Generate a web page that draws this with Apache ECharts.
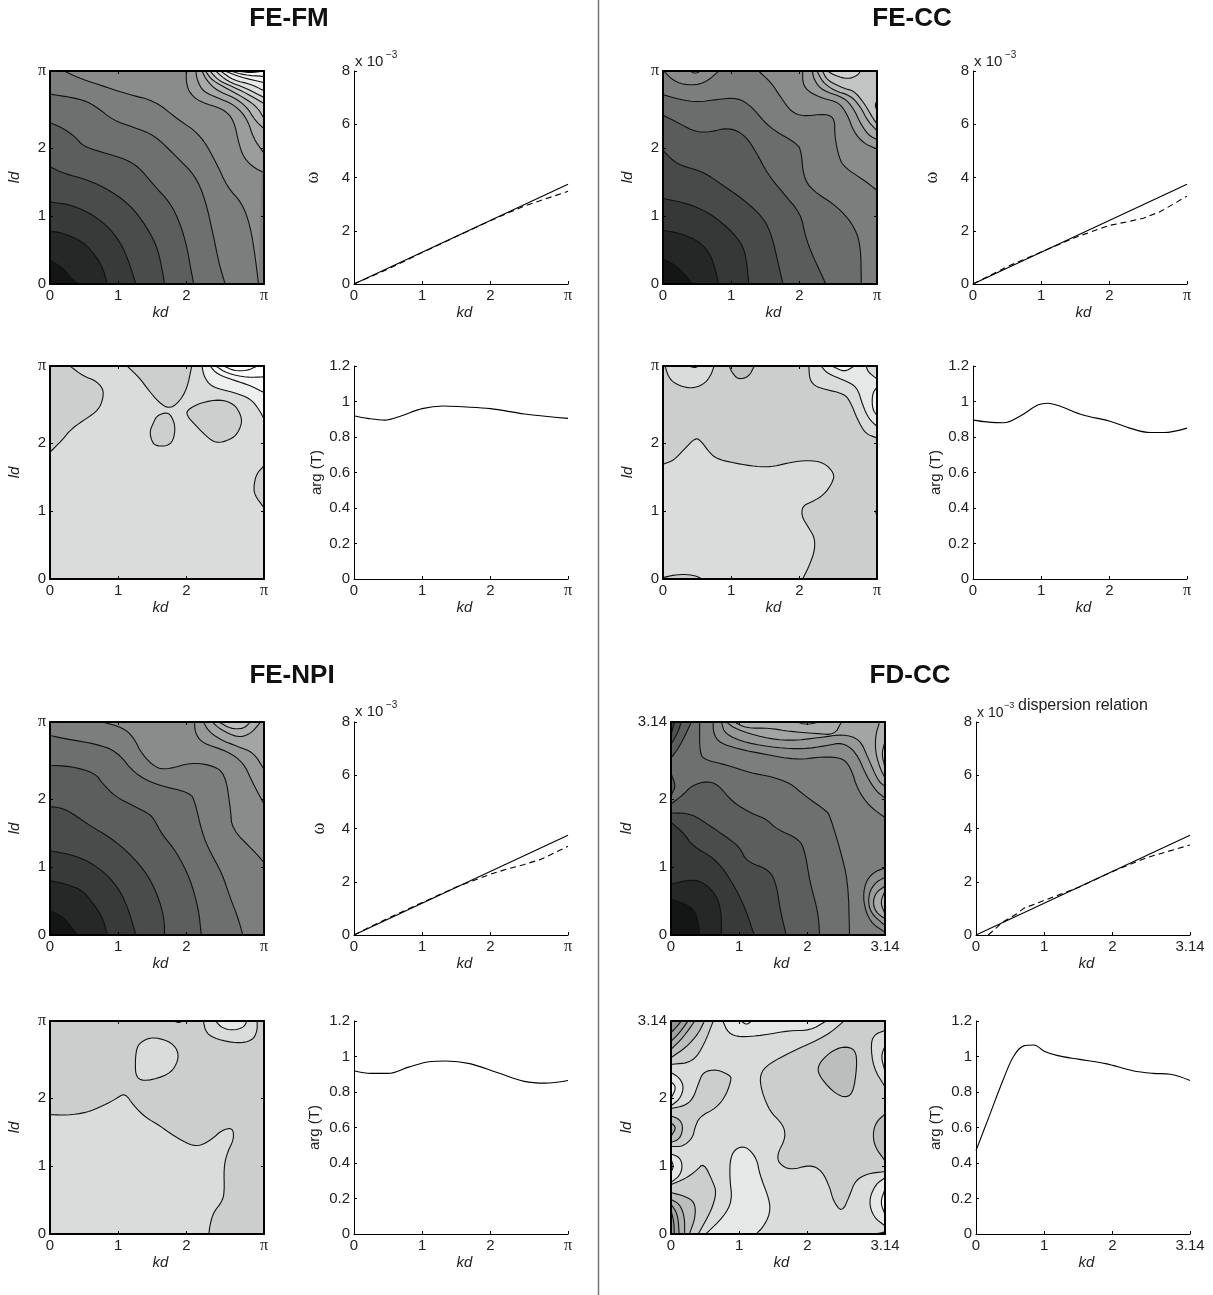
<!DOCTYPE html>
<html><head><meta charset="utf-8">
<style>html,body{margin:0;padding:0;background:#fff}#c{width:1213px;height:1295px}</style>
<script src="https://cdn.jsdelivr.net/npm/echarts@6/dist/echarts.min.js"></script>
</head><body><div id="c"></div>
<script>
// Contour data: [grey level of the enclosed region, closing corners, path of [kd, ld]]
const fmOmegaContours = [
 [0x8a,'TR',[[0.21,3.14],[0.39,3.05],[0.74,2.93],[1.13,2.8],[1.54,2.7],[1.86,2.44],[2.21,2.2],[2.45,1.77],[2.6,1.43],[2.82,1.19],[2.94,0.85],[3.01,0.41],[3.06,0]]],
 [0x6e,'O',[[0,2.8],[0.44,2.73],[0.66,2.63],[0.93,2.41],[1.23,2.31],[1.54,2.19],[1.86,1.87],[2.13,1.6],[2.28,1.24],[2.4,0.7],[2.48,0.3],[2.57,0]]],
 [0x5c,'O',[[0,2.38],[0.2,2.29],[0.37,2.17],[0.49,2.03],[0.74,1.95],[1.08,1.85],[1.3,1.73],[1.52,1.46],[1.77,1.19],[1.91,0.89],[2.01,0.55],[2.06,0.25],[2.11,0]]],
 [0x4a,'O',[[0,1.73],[0.2,1.63],[0.54,1.54],[0.88,1.38],[1.18,1.16],[1.42,0.84],[1.57,0.55],[1.64,0.25],[1.68,0]]],
 [0x38,'O',[[0,1.21],[0.29,1.17],[0.56,1.06],[0.83,0.87],[1.03,0.62],[1.15,0.35],[1.26,0]]],
 [0x26,'O',[[0,0.78],[0.2,0.75],[0.49,0.62],[0.66,0.43],[0.78,0.23],[0.84,0]]],
 [0x14,'O',[[0,0.35],[0.2,0.23],[0.29,0.1],[0.42,0]]],
 [0x9b,'TR',[[2,3.14],[2,2.95],[2.06,2.8],[2.21,2.68],[2.55,2.58],[2.7,2.41],[2.77,2.07],[2.84,1.87],[2.97,1.73],[3.14,1.64]]],
 [0xa8,'TR',[[2.14,3.14],[2.16,3],[2.25,2.83],[2.5,2.73],[2.72,2.63],[2.89,2.44],[2.99,2.14],[3.11,1.97],[3.14,1.93]]],
 [0xb5,'TR',[[2.23,3.14],[2.3,3],[2.45,2.85],[2.7,2.75],[2.89,2.61],[3.01,2.41],[3.14,2.29]]],
 [0xc2,'TR',[[2.28,3.14],[2.38,3],[2.6,2.88],[2.84,2.75],[3.04,2.61],[3.14,2.44]]],
 [0xcf,'TR',[[2.35,3.14],[2.47,3],[2.7,2.9],[2.94,2.78],[3.14,2.66]]],
 [0xdc,'TR',[[2.43,3.14],[2.6,2.99],[2.89,2.88],[3.14,2.75]]],
 [0xe8,'TR',[[2.5,3.14],[2.7,3],[2.94,2.95],[3.14,2.85]]],
 [0xf2,'TR',[[2.57,3.14],[2.79,3.05],[3.14,2.97]]],
 [0xfa,'TR',[[2.65,3.14],[2.85,3.08],[3.14,3.06]]],
 [0xff,'TR',[[2.75,3.14],[2.94,3.11],[3.14,3.14]]]
];
const fmArgContours = [
 [0xcd,'TL',[[0.29,3.14],[0.49,2.99],[0.66,2.93],[0.78,2.81],[0.78,2.66],[0.71,2.49],[0.54,2.37],[0.32,2.22],[0.17,2.04],[0,1.87]]],
 [0xcd,'-',[[1.13,3.14],[1.3,2.98],[1.45,2.78],[1.59,2.61],[1.74,2.51],[1.88,2.59],[2.01,2.8],[2.08,3.14]]],
 [0xcd,'loop',[[1.57,2.41],[1.72,2.46],[1.79,2.39],[1.84,2.24],[1.81,2.04],[1.72,1.96],[1.57,1.96],[1.5,2.01],[1.46,2.17],[1.52,2.31]]],
 [0xcd,'loop',[[2.01,2.49],[2.21,2.6],[2.5,2.65],[2.7,2.58],[2.79,2.44],[2.82,2.31],[2.75,2.14],[2.65,2.06],[2.5,2.01],[2.37,2.03],[2.11,2.29],[2.01,2.41]]],
 [0xcd,'-',[[3.14,1.67],[3.03,1.55],[2.99,1.38],[3,1.24],[3.14,1.05]]],
 [0xee,'TR',[[2.23,3.14],[2.26,2.98],[2.37,2.83],[2.7,2.75],[2.94,2.66],[3.06,2.51],[3.14,2.36]]],
 [0xf6,'TR',[[2.35,3.14],[2.45,3.02],[2.7,2.93],[2.94,2.85],[3.14,2.75]]],
 [0xff,'TR',[[2.43,3.14],[2.6,3.03],[2.89,2.97],[3.14,2.98]]],
 [0xff,'-',[[2.55,3.14],[2.7,3.07],[2.89,3.07],[3.04,3.14]]]
];
const ccOmegaContours = [
 [0x6b,'O',[[0,2.79],[0.25,2.72],[0.5,2.68],[0.79,2.72],[1.09,2.75],[1.31,2.61],[1.55,2.31],[1.97,2.07],[2.03,1.95],[2.06,1.58],[2.19,1.38],[2.56,1.14],[2.78,0.89],[2.9,0.6],[2.91,0]]],
 [0x5a,'O',[[0,2.49],[0.25,2.36],[0.48,2.24],[0.7,2.24],[0.97,2.31],[1.21,2.19],[1.38,1.92],[1.53,1.63],[1.77,1.33],[2.02,1.04],[2.09,0.7],[2.19,0.43],[2.39,0]]],
 [0x48,'O',[[0,1.97],[0.11,1.85],[0.25,1.75],[0.6,1.65],[0.87,1.46],[1.19,1.24],[1.48,0.97],[1.6,0.7],[1.68,0.35],[1.76,0]]],
 [0x36,'O',[[0,1.26],[0.35,1.19],[0.7,1.04],[1.04,0.75],[1.21,0.5],[1.26,0]]],
 [0x25,'O',[[0,0.79],[0.25,0.75],[0.55,0.62],[0.72,0.4],[0.82,0]]],
 [0x14,'O',[[0,0.37],[0.18,0.28],[0.33,0.13],[0.43,0]]],
 [0x8a,'-',[[0.01,3.14],[0.16,2.99],[0.35,2.93],[0.6,2.95],[0.82,3.14]]],
 [0x99,'-',[[0.4,3.14],[0.47,3.1],[0.55,3.14]]],
 [0x8a,'TR',[[1.4,3.14],[1.58,2.98],[1.73,2.75],[1.87,2.55],[2.04,2.47],[2.39,2.51],[2.52,2.44],[2.52,2.17],[2.58,1.87],[2.66,1.72],[2.95,1.53],[3.14,1.38]]],
 [0x99,'TR',[[2.05,3.14],[2.05,2.95],[2.14,2.83],[2.36,2.73],[2.58,2.68],[2.71,2.49],[2.8,2.24],[2.95,2.07],[3.14,1.99]]],
 [0xa7,'TR',[[2.19,3.14],[2.22,3],[2.34,2.85],[2.66,2.75],[2.8,2.58],[2.9,2.36],[3.02,2.19],[3.14,2.13]]],
 [0xb4,'TR',[[2.26,3.14],[2.34,2.98],[2.51,2.85],[2.75,2.78],[2.9,2.61],[3,2.41],[3.14,2.26]]],
 [0xc2,'TR',[[2.34,3.14],[2.41,3],[2.66,2.88],[2.8,2.85],[2.95,2.67],[3.07,2.46],[3.14,2.36]]],
 [0xd0,'-',[[2.41,3.14],[2.53,3.07],[2.71,3.02],[2.85,3.07],[2.9,3.14]]],
 [0x60,'-',[[3.14,2.71],[3.11,2.63],[3.14,2.56]]]
];
const ccArgContours = [
 [0xda,'O',[[0,1.69],[0.16,1.75],[0.3,1.9],[0.48,2.09],[0.57,2.02],[0.7,1.84],[0.82,1.76],[1.14,1.69],[1.43,1.65],[1.63,1.66],[1.87,1.72],[2.12,1.75],[2.36,1.72],[2.52,1.55],[2.48,1.41],[2.36,1.24],[2.19,1.14],[2.05,1.08],[2.03,0.93],[2.14,0.75],[2.22,0.62],[2.23,0.45],[2.17,0.25],[2.05,0]]],
 [0xcc,'O',[[0,0.02],[0.16,0.06],[0.35,0.07],[0.5,0.04],[0.57,0]]],
 [0xda,'-',[[0.03,3.14],[0.08,2.98],[0.16,2.89],[0.33,2.82],[0.48,2.82],[0.62,2.89],[0.7,3],[0.75,3.14]]],
 [0xe6,'-',[[0.38,3.14],[0.47,3.11],[0.52,3.14]]],
 [0xbf,'-',[[0.97,3.14],[1.01,3.05],[1.1,2.94],[1.26,2.98],[1.34,3.14]]],
 [0xda,'TR',[[2.14,3.14],[2.15,2.95],[2.22,2.85],[2.36,2.8],[2.66,2.73],[2.75,2.61],[2.85,2.36],[2.97,2.14],[3.14,2.08]]],
 [0xe6,'TR',[[2.32,3.14],[2.41,3.03],[2.66,2.93],[2.85,2.83],[2.93,2.56],[3.02,2.36],[3.14,2.25]]],
 [0xf6,'-',[[2.48,3.14],[2.66,3.05],[2.81,3.14]]],
 [0xda,'TR',[[2.98,3.14],[3.01,3.05],[3.14,2.95]]],
 [0xf0,'-',[[3.14,2.83],[3.07,2.73],[3.07,2.51],[3.14,2.41]]],
 [0x40,'-',[[3.14,1.05],[3.12,0.99],[3.14,0.93]]]
];
const npiOmegaContours = [
 [0x8a,'TR',[[0.78,3.14],[1.08,3.05],[1.23,2.91],[1.35,2.66],[1.57,2.45],[1.76,2.45],[2.06,2.54],[2.35,2.51],[2.57,2.39],[2.65,1.85],[2.67,1.56],[2.99,1.24],[3.14,1.07]]],
 [0x6d,'O',[[0,2.94],[0.29,2.88],[0.66,2.82],[0.98,2.71],[1.25,2.37],[1.57,2.21],[2.06,2.1],[2.13,1.95],[2.23,1.51],[2.35,1.22],[2.52,0.92],[2.65,0.53],[2.75,0.28],[2.83,0]]],
 [0x5c,'O',[[0,2.5],[0.29,2.49],[0.66,2.39],[0.78,2.22],[0.96,2.04],[1.23,1.9],[1.47,1.78],[1.54,1.68],[1.64,1.49],[1.86,1.22],[2.06,0.82],[2.18,0.38],[2.22,0]]],
 [0x4a,'O',[[0,1.89],[0.15,1.88],[0.32,1.8],[0.59,1.61],[0.88,1.44],[1.18,1.19],[1.45,0.87],[1.62,0.48],[1.68,0.19],[1.68,0]]],
 [0x38,'O',[[0,1.24],[0.29,1.19],[0.56,1.09],[0.83,0.9],[1.03,0.65],[1.15,0.38],[1.26,0]]],
 [0x26,'O',[[0,0.8],[0.25,0.75],[0.49,0.65],[0.66,0.43],[0.78,0.24],[0.84,0]]],
 [0x14,'O',[[0,0.36],[0.2,0.26],[0.32,0.11],[0.4,0]]],
 [0x96,'TR',[[2.12,3.14],[2.13,2.98],[2.23,2.83],[2.6,2.71],[2.84,2.54],[2.97,2.25],[3.14,1.93]]],
 [0xa3,'TR',[[2.25,3.14],[2.33,3],[2.5,2.88],[2.75,2.78],[2.99,2.69],[3.14,2.44]]],
 [0xaf,'-',[[2.38,3.14],[2.5,3.03],[2.75,2.91],[2.94,2.96],[3.09,3.14]]],
 [0xbd,'-',[[2.48,3.14],[2.65,3.04],[2.84,3.04],[2.94,3.14]]]
];
const npiArgContours = [
 [0xda,'O',[[0,1.76],[0.25,1.75],[0.54,1.79],[0.78,1.89],[0.98,2],[1.1,2.08],[1.23,1.89],[1.4,1.72],[1.62,1.59],[1.81,1.45],[2.06,1.31],[2.21,1.3],[2.38,1.4],[2.52,1.53],[2.68,1.57],[2.7,1.4],[2.6,1.2],[2.55,0.98],[2.56,0.61],[2.52,0.47],[2.4,0.32],[2.35,0.15],[2.33,0]]],
 [0xda,'loop',[[1.32,2.82],[1.45,2.89],[1.59,2.89],[1.79,2.82],[1.89,2.67],[1.86,2.5],[1.74,2.35],[1.42,2.25],[1.26,2.3],[1.25,2.55],[1.27,2.73]]],
 [0xda,'-',[[2.25,3.14],[2.29,2.96],[2.45,2.87],[2.75,2.81],[2.97,2.85],[3.04,2.99],[3.04,3.14]]],
 [0xe8,'-',[[2.43,3.14],[2.52,3.04],[2.67,3],[2.84,3.04],[2.89,3.14]]],
 [0xda,'-',[[1.82,3.14],[1.89,3.11],[1.94,3.14]]]
];
const fdOmegaContours = [
 [0x6e,'O,TL',[[0.42,3.14],[0.42,2.68],[0.5,2.58],[0.81,2.51],[1.16,2.39],[1.45,2.34],[1.75,2.24],[1.94,2.07],[2.28,1.83],[2.33,1.76],[2.48,1.27],[2.6,0.78],[2.62,0]]],
 [0x5c,'O',[[0,1.93],[0.18,2.07],[0.3,2.2],[0.52,2.27],[0.69,2.22],[0.91,1.95],[1.21,1.78],[1.4,1.71],[1.55,1.56],[1.89,1.41],[1.97,1.21],[2.04,0.77],[2.16,0.33],[2.18,0]]],
 [0x4a,'O',[[0,1.8],[0.3,1.79],[0.57,1.61],[0.86,1.41],[1.01,1.29],[1.11,1.08],[1.45,0.96],[1.55,0.73],[1.6,0.38],[1.69,0]]],
 [0x38,'O',[[0,1.66],[0.18,1.51],[0.32,1.31],[0.62,1.14],[0.81,0.92],[1.06,0.48],[1.22,0]]],
 [0x26,'O',[[0,0.75],[0.3,0.82],[0.49,0.77],[0.67,0.58],[0.74,0.33],[0.74,0]]],
 [0x14,'O',[[0,0.53],[0.2,0.46],[0.35,0.36],[0.4,0.19],[0.42,0]]],
 [0x5c,'-',[[0,2.38],[0.07,2.2],[0.02,2.1],[0,2.04]]],
 [0x5c,'TL',[[0,2.61],[0.13,2.78],[0.3,3.14]]],
 [0x4e,'TL',[[0,2.81],[0.1,2.98],[0.15,3.14]]],
 [0x40,'TL',[[0,2.95],[0.05,3.14]]],
 [0x8a,'TR',[[0.62,3.14],[0.62,2.98],[0.71,2.83],[1,2.74],[1.35,2.67],[1.84,2.58],[2.23,2.63],[2.52,2.61],[2.64,2.46],[2.74,2.14],[2.91,1.9],[3.14,1.73]]],
 [0x96,'TR',[[0.74,3.14],[0.79,2.96],[1.11,2.83],[1.55,2.76],[1.94,2.74],[2.28,2.79],[2.52,2.84],[2.72,2.69],[2.87,2.34],[3.01,2.12],[3.14,2.02]]],
 [0xa3,'TR',[[0.81,3.14],[0.96,3.03],[1.35,2.91],[1.74,2.86],[2.18,2.91],[2.52,2.96],[2.77,2.89],[2.9,2.59],[3.04,2.27],[3.14,2.19]]],
 [0xab,'-',[[0.93,3.14],[1.1,3.05],[1.45,3.05],[1.74,3],[2.13,2.97],[2.4,2.95],[2.5,3.14]]],
 [0xb7,'-',[[1.84,3.14],[1.99,3.1],[2.18,3.14]]],
 [0xb0,'TR',[[3.06,3.14],[3,2.94],[3,2.69],[3.07,2.45],[3.14,2.32]]],
 [0xbe,'-',[[3.14,2.85],[3.09,2.67],[3.14,2.47]]],
 [0x8a,'-',[[3.14,0.99],[2.96,0.92],[2.84,0.75],[2.82,0.48],[2.92,0.19],[3.14,0.04]]],
 [0x99,'-',[[3.14,0.85],[2.99,0.77],[2.89,0.58],[2.92,0.33],[3.14,0.14]]],
 [0xa9,'-',[[3.14,0.72],[3.01,0.63],[2.96,0.48],[3.01,0.33],[3.14,0.24]]],
 [0xb6,'-',[[3.14,0.65],[3.07,0.48],[3.14,0.31]]]
];
const fdArgContours = [
 [0xcc,'TR',[[2.54,3.14],[2.28,2.92],[1.84,2.72],[1.43,2.51],[1.3,2.35],[1.33,2.1],[1.45,1.81],[1.6,1.66],[1.67,1.54],[1.67,1.39],[1.56,1.18],[1.58,1.04],[1.75,0.94],[2.04,1.02],[2.21,0.94],[2.33,0.69],[2.38,0.49],[2.51,0.31],[2.63,0.59],[2.7,0.78],[2.87,0.89],[3.14,0.92]]],
 [0xbc,'loop',[[2.16,2.5],[2.33,2.68],[2.53,2.77],[2.71,2.72],[2.73,2.47],[2.67,2.06],[2.53,2.01],[2.36,2.11],[2.16,2.35]]],
 [0xda,'-',[[3.14,3],[2.98,2.94],[2.93,2.79],[2.97,2.45],[3.14,2.17]]],
 [0xe6,'-',[[3.14,2.77],[3.08,2.62],[3.14,2.4]]],
 [0xbc,'-',[[3.14,1.77],[3,1.64],[2.96,1.45],[3,1.27],[3.14,1.08]]],
 [0xe6,'-',[[3.14,0.83],[3,0.73],[2.9,0.49],[2.97,0.25],[3.14,0.12]]],
 [0xf6,'-',[[3.14,0.66],[3.07,0.47],[3.14,0.29]]],
 [0xcc,'BR',[[2.99,0],[3.14,0.03]]],
 [0xe6,'-',[[0.76,3.14],[0.84,2.96],[1.01,2.9],[1.35,2.93],[1.74,3],[2.04,3],[2.28,3.14]]],
 [0xf6,'-',[[1.03,3.14],[1.11,3.08],[1.18,3.14]]],
 [0xe6,'-',[[0.51,0],[0.77,0.25],[0.9,0.49],[0.86,0.83],[0.87,1.13],[0.96,1.27],[1.11,1.29],[1.26,1.11],[1.3,0.88],[1.45,0.49],[1.45,0.29],[1.35,0.1],[1.25,0]]],
 [0xcc,'-',[[0,1.85],[0.2,1.89],[0.32,1.99],[0.4,2.21],[0.47,2.39],[0.67,2.43],[0.86,2.34],[0.89,2.29],[0.81,2.05],[0.67,1.86],[0.42,1.73],[0.35,1.57],[0.32,1.42],[0.18,1.29],[0,1.29]]],
 [0xbc,'-',[[0,1.74],[0.13,1.69],[0.18,1.57],[0.13,1.4],[0,1.35]]],
 [0xae,'-',[[0,1.64],[0.08,1.57],[0,1.44]]],
 [0xe6,'-',[[0,2.38],[0.13,2.3],[0.19,2.16],[0.13,1.99],[0,1.89]]],
 [0xf2,'-',[[0,2.25],[0.08,2.16],[0,2]]],
 [0xe6,'-',[[0,1.18],[0.13,1.13],[0.17,1],[0.13,0.86],[0,0.76]]],
 [0xf2,'-',[[0,1.1],[0.04,1],[0,0.91]]],
 [0xcc,'TL',[[0,2.5],[0.32,2.53],[0.49,2.8],[0.62,3.14]]],
 [0xbc,'TL',[[0,2.6],[0.22,2.75],[0.4,2.95],[0.49,3.14]]],
 [0xae,'TL',[[0,2.72],[0.18,2.9],[0.35,3.14]]],
 [0xa0,'TL',[[0,2.84],[0.13,2.97],[0.25,3.14]]],
 [0x92,'TL',[[0,2.97],[0.08,3.05],[0.15,3.14]]],
 [0xcc,'O',[[0,0.73],[0.2,0.81],[0.37,0.93],[0.48,1.05],[0.61,0.78],[0.67,0.61],[0.59,0.34],[0.4,0]]],
 [0xbc,'O',[[0,0.61],[0.2,0.56],[0.35,0.47],[0.36,0.25],[0.27,0]]],
 [0xae,'O',[[0,0.51],[0.13,0.44],[0.2,0.25],[0.2,0]]],
 [0xa0,'O',[[0,0.44],[0.1,0.29],[0.12,0]]],
 [0x92,'O',[[0,0.34],[0.04,0.2],[0.05,0]]]
];

// Dispersion and arg(T) curves: [kd, value]
const omegaExact = [[0,0],[3.14,3.75]];
const fmOmegaDashed = [[0,0],[0.5,0.56],[1,1.18],[1.5,1.78],[2,2.38],[2.5,2.93],[3.14,3.48]];
const ccOmegaDashed = [[0,0],[0.25,0.32],[0.5,0.65],[1,1.2],[1.5,1.75],[2,2.2],[2.25,2.33],[2.5,2.47],[2.75,2.72],[3.14,3.3]];
const npiOmegaDashed = [[0,0],[0.25,0.32],[0.5,0.63],[1,1.22],[1.5,1.8],[2,2.28],[2.25,2.48],[2.5,2.65],[2.75,2.85],[3.14,3.33]];
const fdOmegaDashed = [[0.18,0],[0.4,0.5],[0.6,0.8],[0.7,1.0],[1,1.3],[1.5,1.78],[2,2.38],[2.5,2.9],[3.14,3.38]];
const fmArg = [[0,0.92],[0.2,0.905],[0.45,0.895],[0.7,0.92],[1,0.96],[1.3,0.975],[1.6,0.97],[2,0.96],[2.5,0.93],[3.14,0.905]];
const ccArg = [[0,0.895],[0.2,0.885],[0.45,0.88],[0.7,0.92],[0.95,0.98],[1.1,0.99],[1.3,0.97],[1.6,0.925],[2,0.89],[2.3,0.85],[2.6,0.825],[2.8,0.825],[3.14,0.85]];
const npiArg = [[0,0.92],[0.25,0.905],[0.5,0.905],[0.8,0.94],[1.1,0.97],[1.35,0.975],[1.7,0.96],[2.1,0.91],[2.5,0.86],[2.8,0.85],[3.14,0.865]];
const fdArg = [[0,0.47],[0.2,0.67],[0.4,0.87],[0.55,1],[0.7,1.06],[0.85,1.065],[1,1.03],[1.2,1.005],[1.5,0.985],[1.9,0.96],[2.3,0.92],[2.6,0.905],[2.85,0.9],[3.14,0.865]];

const kdTicks = [0,1,2,3.14];
const titles = ['FE-FM','FE-CC','FE-NPI','FD-CC'];

const FONT = '"Liberation Sans", Arial, sans-serif';
const SERIF = '"Liberation Serif", serif';
const TXT = '#222222';
const CORNER = {O:[0,0],TL:[0,3.14],TR:[3.14,3.14],BR:[3.14,0]};
const gray = v => 'rgb('+v+','+Math.min(255,v+1)+','+Math.min(255,v+1)+')';

const grids=[], xAxes=[], yAxes=[], series=[], titleList=[];
const labelRich={p:{fontFamily:SERIF,fontSize:16,color:TXT}};
function piLabel(useNum){ return v => v===3.14 ? (useNum?'3.14':'{p|π}') : String(v); }
function rounded(pts,closed){
  let cur=pts;
  for(let it=0;it<2;it++){
    const out=[]; const n=cur.length;
    if(!closed) out.push(cur[0]);
    const segs=closed?n:n-1;
    for(let i=0;i<segs;i++){
      const a=cur[i], b=cur[(i+1)%n];
      out.push([a[0]*0.75+b[0]*0.25,a[1]*0.75+b[1]*0.25]);
      out.push([a[0]*0.25+b[0]*0.75,a[1]*0.25+b[1]*0.75]);
    }
    if(!closed) out.push(cur[n-1]);
    cur=out;
  }
  return cur;
}
function addGrid(l,t,w,h,bg){
  grids.push({left:l,top:t,width:w,height:h,show:!!bg,backgroundColor:bg||'transparent',borderWidth:0,containLabel:false});
  return grids.length-1;
}
function xAxis(g,useNum,frame){
  xAxes.push({type:'value',gridIndex:g,z:10,min:0,max:3.14,name:'kd',nameLocation:'middle',nameGap:21,
    nameTextStyle:{fontFamily:FONT,fontStyle:'italic',fontSize:15,color:TXT,padding:[0,0,0,7]},
    splitLine:{show:false},
    axisLine:{show:true,onZero:false,lineStyle:{color:'#000',width:frame?2:1}},
    axisTick:{show:true,inside:true,length:3,customValues:kdTicks,lineStyle:{color:'#000'}},
    axisLabel:{show:true,customValues:kdTicks,formatter:piLabel(useNum),rich:labelRich,fontFamily:FONT,fontSize:15,color:TXT,margin:4,hideOverlap:false,showMinLabel:true,showMaxLabel:true}});
  return xAxes.length-1;
}
function mirror(g){
  xAxes.push({type:'value',gridIndex:g,z:10,min:0,max:3.14,position:'top',splitLine:{show:false},
    axisLine:{show:true,onZero:false,lineStyle:{color:'#000',width:2}},
    axisTick:{show:true,inside:true,length:3,customValues:kdTicks,lineStyle:{color:'#000'}},axisLabel:{show:false}});
  yAxes.push({type:'value',gridIndex:g,z:10,min:0,max:3.14,position:'right',splitLine:{show:false},
    axisLine:{show:true,onZero:false,lineStyle:{color:'#000',width:2}},
    axisTick:{show:true,inside:true,length:3,customValues:kdTicks,lineStyle:{color:'#000'}},axisLabel:{show:false}});
  series.push({type:'line',xAxisIndex:xAxes.length-1,yAxisIndex:yAxes.length-1,data:[],silent:true});
}
function contourPanel(l,t,base,contours,useNum){
  const g=addGrid(l,t,214,213,gray(base));
  const xi=xAxis(g,useNum,true);
  yAxes.push({type:'value',gridIndex:g,z:10,min:0,max:3.14,name:'ld',nameLocation:'middle',nameGap:useNum?36:28,
    nameTextStyle:{fontFamily:FONT,fontStyle:'italic',fontSize:15,color:TXT},splitLine:{show:false},
    axisLine:{show:true,onZero:false,lineStyle:{color:'#000',width:2}},
    axisTick:{show:true,inside:true,length:3,customValues:kdTicks,lineStyle:{color:'#000'}},
    axisLabel:{show:true,customValues:kdTicks,formatter:piLabel(useNum),rich:labelRich,fontFamily:FONT,fontSize:15,color:TXT,margin:4,showMinLabel:true,showMaxLabel:true}});
  const yi=yAxes.length-1;
  series.push({type:'custom',coordinateSystem:'cartesian2d',xAxisIndex:xi,yAxisIndex:yi,silent:true,animation:false,
    data:contours.map((c,i)=>[i]),
    encode:{x:-1,y:-1},
    renderItem:(params,api)=>{
      const [shade,close,path]=contours[params.dataIndex];
      const loop=close==='loop';
      const stroke=rounded(path.map(p=>api.coord(p)),loop);
      let fillPts=stroke.slice();
      if(close!=='-'&&!loop) close.split(',').forEach(k=>fillPts.push(api.coord(CORNER[k])));
      const line=loop?stroke.concat([stroke[0]]):stroke;
      return {type:'group',children:[
        {type:'polygon',shape:{points:fillPts},style:{fill:gray(shade),stroke:null}},
        {type:'polyline',shape:{points:line},style:{fill:null,stroke:'#111',lineWidth:1.1}}
      ]};
    }});
  mirror(g);
}
function linePanel(l,t,yMax,yInt,yName,yGap,curves,useNum){
  const g=addGrid(l,t,214,213,null);
  const xi=xAxis(g,useNum,false);
  const isOmega=yName==='ω';
  yAxes.push({type:'value',gridIndex:g,z:10,min:0,max:yMax,interval:yInt,name:yName,nameLocation:'middle',nameGap:yGap,
    nameTextStyle:{fontFamily:isOmega?SERIF:FONT,fontSize:isOmega?18:15,color:TXT},splitLine:{show:false},
    axisLine:{show:true,onZero:false,lineStyle:{color:'#000',width:1}},
    axisTick:{show:true,inside:true,length:3,lineStyle:{color:'#000'}},
    axisLabel:{show:true,fontFamily:FONT,fontSize:15,color:TXT,margin:4,showMinLabel:true,showMaxLabel:true}});
  const yi=yAxes.length-1;
  curves.forEach(c=>series.push({type:'line',xAxisIndex:xi,yAxisIndex:yi,data:c.data,showSymbol:false,symbol:'none',silent:true,animation:false,
    smooth:c.smooth||false,lineStyle:{color:'#000',width:1.1,type:c.dashed?[6,4]:'solid'}}));
}
function note(text,l,yc,size){
  titleList.push({left:l,top:yc-size/2,padding:0,text:text,textStyle:{fontFamily:FONT,fontWeight:'normal',fontSize:size,lineHeight:size,color:TXT}});
}
function power(l,yc,small){
  note('x 10',l,yc,small?14:15);
  note('−3',l+(small?27:31),yc-7,small?9:10);
}
function panelTitle(text,cx,t){
  titleList.push({left:cx,top:t,padding:0,textAlign:'center',text:text,textStyle:{fontFamily:FONT,fontWeight:'bold',fontSize:26,lineHeight:26,color:'#111'}});
}

// FE-FM
panelTitle(titles[0],289,6);
contourPanel(50,71,0x7c,fmOmegaContours,false);
linePanel(354,71,8,2,'ω',32,[{data:omegaExact},{data:fmOmegaDashed,dashed:true}],false);
power(355,62);
contourPanel(50,366,0xda,fmArgContours,false);
linePanel(354,366,1.2,0.2,'arg (T)',30,[{data:fmArg,smooth:0.35}],false);
// FE-CC
panelTitle(titles[1],912,6);
contourPanel(663,71,0x7c,ccOmegaContours,false);
linePanel(973,71,8,2,'ω',32,[{data:omegaExact},{data:ccOmegaDashed,dashed:true}],false);
power(974,62);
contourPanel(663,366,0xcc,ccArgContours,false);
linePanel(973,366,1.2,0.2,'arg (T)',30,[{data:ccArg,smooth:0.35}],false);
// FE-NPI
panelTitle(titles[2],292,663);
contourPanel(50,722,0x7c,npiOmegaContours,false);
linePanel(354,722,8,2,'ω',26,[{data:omegaExact},{data:npiOmegaDashed,dashed:true}],false);
power(355,712);
contourPanel(50,1021,0xcc,npiArgContours,false);
linePanel(354,1021,1.2,0.2,'arg (T)',32,[{data:npiArg,smooth:0.35}],false);
// FD-CC
panelTitle(titles[3],910,663);
contourPanel(671,722,0x7c,fdOmegaContours,true);
linePanel(976,722,8,2,'',30,[{data:omegaExact},{data:fdOmegaDashed,dashed:true}],true);
power(977,713,true);
note('dispersion relation',1018,706,16);
contourPanel(671,1021,0xda,fdArgContours,true);
linePanel(976,1021,1.2,0.2,'arg (T)',33,[{data:fdArg,smooth:0.35}],true);

const chart=echarts.init(document.getElementById('c'),null,{renderer:'canvas'});
chart.setOption({animation:false,backgroundColor:'#fff',title:titleList,grid:grids,xAxis:xAxes,yAxis:yAxes,series:series,
  graphic:[{type:'line',shape:{x1:598.5,y1:0,x2:598.5,y2:1295},style:{stroke:'#777',lineWidth:1.5},silent:true}]});
</script></body></html>
